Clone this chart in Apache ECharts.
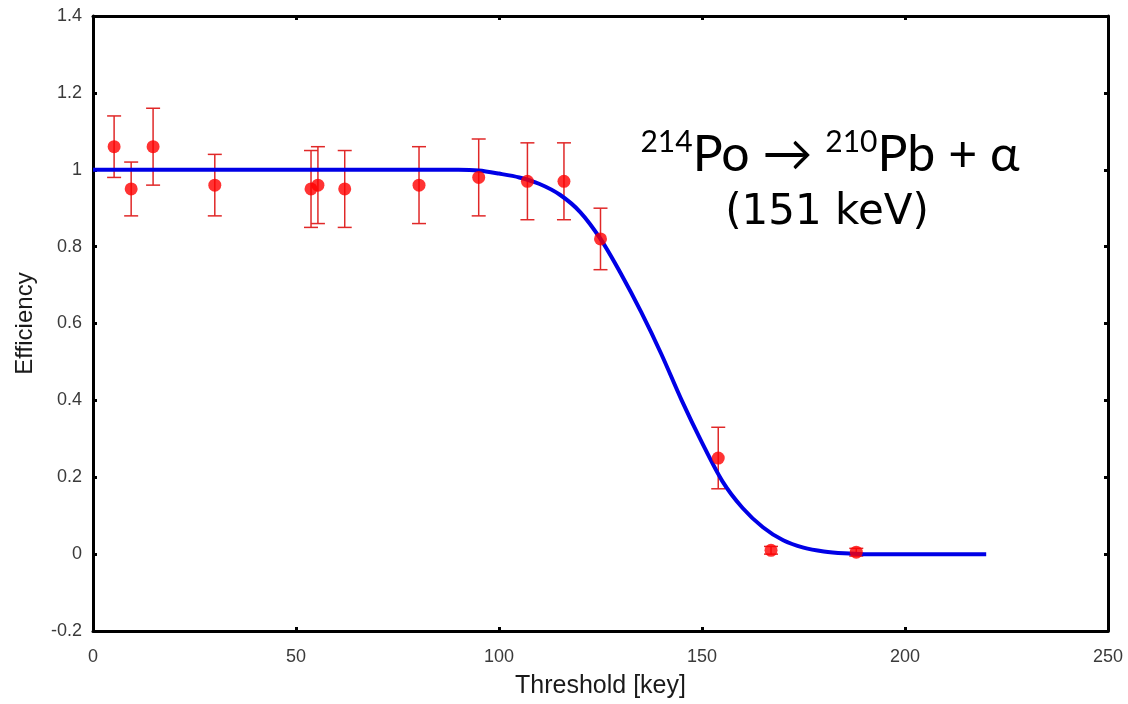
<!DOCTYPE html>
<html>
<head>
<meta charset="utf-8">
<script src="https://cdn.jsdelivr.net/npm/echarts@6/dist/echarts.min.js"></script>
<style>html,body{margin:0;padding:0;background:#fff;}#c{width:1128px;height:704px;}</style>
</head>
<body>
<div id="c"></div>
<script>
// Measured data points (threshold in keV, efficiency) with error bars
var pointX   = [5.2, 9.4, 14.8, 30, 53.7, 55.4, 62, 80.3, 95, 107, 116, 125, 154, 167, 188];
var pointY   = [1.06, 0.95, 1.06, 0.96, 0.95, 0.96, 0.95, 0.96, 0.98, 0.97, 0.97, 0.82, 0.25, 0.01, 0.005];
var errLow   = [0.98, 0.88, 0.96, 0.88, 0.85, 0.86, 0.85, 0.86, 0.88, 0.87, 0.87, 0.74, 0.17, 0.00, -0.005];
var errHigh  = [1.14, 1.02, 1.16, 1.04, 1.05, 1.06, 1.05, 1.06, 1.08, 1.07, 1.07, 0.90, 0.33, 0.02, 0.015];

// Fitted efficiency curve
var curveX = [0, 85, 90, 95, 100, 105, 110, 115, 120, 125, 130, 135, 140, 145, 150, 155, 160, 165, 170, 175, 180, 185, 190, 220];
var curveY = [1, 1, 1, 0.998, 0.99, 0.98, 0.963, 0.935, 0.89, 0.82, 0.73, 0.63, 0.52, 0.40, 0.29, 0.19, 0.12, 0.07, 0.036, 0.017, 0.007, 0.002, 0, 0];

// Axis settings
var xTicks = {min: 0, max: 250, interval: 50};
var yTicks = {min: -0.2, max: 1.4, interval: 0.2};

var chart = echarts.init(document.getElementById('c'), null, {renderer: 'canvas'});

var points = pointX.map(function (x, i) { return [x, pointY[i]]; });
var bars = pointX.map(function (x, i) { return [x, errLow[i], errHigh[i]]; });
var curve = curveX.map(function (x, i) { return [x, curveY[i]]; });

var labelStyle = {color: '#3a3a3a', fontSize: 18, fontFamily: 'Liberation Sans, Arial, sans-serif'};
var axisLine = {show: true, onZero: false, lineStyle: {color: '#000', width: 3}};
var tick = {show: true, inside: true, length: 4, lineStyle: {color: '#000', width: 3}};

var option = {
  backgroundColor: '#fff',
  animation: false,
  grid: {left: 93, right: 20, top: 16, bottom: 67, containLabel: false},
  xAxis: [{
    type: 'value', min: xTicks.min, max: xTicks.max, interval: xTicks.interval,
    position: 'bottom',
    name: 'Threshold [key]', nameLocation: 'middle', nameGap: 43,
    nameTextStyle: {color: '#1a1a1a', fontSize: 25, fontFamily: 'Liberation Sans, Arial, sans-serif'},
    axisLine: axisLine, axisTick: tick,
    axisLabel: Object.assign({margin: 17}, labelStyle),
    splitLine: {show: false}
  }, {
    type: 'value', min: xTicks.min, max: xTicks.max, interval: xTicks.interval,
    position: 'top',
    axisLine: axisLine, axisTick: tick, axisLabel: {show: false}, splitLine: {show: false}
  }],
  yAxis: [{
    type: 'value', min: yTicks.min, max: yTicks.max, interval: yTicks.interval,
    position: 'left',
    name: 'Efficiency', nameLocation: 'middle', nameGap: 56, nameRotate: 90,
    nameTextStyle: {color: '#1a1a1a', fontSize: 24, fontFamily: 'Liberation Sans, Arial, sans-serif'},
    axisLine: axisLine, axisTick: tick,
    axisLabel: Object.assign({margin: 11}, labelStyle),
    splitLine: {show: false}
  }, {
    type: 'value', min: yTicks.min, max: yTicks.max, interval: yTicks.interval,
    position: 'right',
    axisLine: axisLine, axisTick: tick, axisLabel: {show: false}, splitLine: {show: false}
  }],
  series: [{
    type: 'custom',
    name: 'errors',
    z: 1,
    data: bars,
    renderItem: function (params, api) {
      var x = api.value(0);
      var lo = api.coord([x, api.value(1)]);
      var hi = api.coord([x, api.value(2)]);
      var cap = 7;
      var st = {stroke: '#e02828', lineWidth: 1.5};
      return {
        type: 'group',
        children: [
          {type: 'line', shape: {x1: lo[0], y1: lo[1], x2: hi[0], y2: hi[1]}, style: st},
          {type: 'line', shape: {x1: lo[0] - cap, y1: lo[1], x2: lo[0] + cap, y2: lo[1]}, style: st},
          {type: 'line', shape: {x1: hi[0] - cap, y1: hi[1], x2: hi[0] + cap, y2: hi[1]}, style: st}
        ]
      };
    }
  }, {
    type: 'line',
    name: 'fit',
    z: 2,
    data: curve,
    smooth: 0.3,
    showSymbol: false,
    symbol: 'none',
    lineStyle: {color: '#0000e6', width: 4}
  }, {
    type: 'scatter',
    name: 'data',
    z: 3,
    data: points,
    symbol: 'circle',
    symbolSize: 13,
    itemStyle: {color: '#ff0000'}
  }],
  graphic: [{
    type: 'text',
    x: 830, y: 122,
    style: {
      text: '{s|214}{b|Po → }{s|210}{b|Pb + α}',
      textAlign: 'center',
      fill: '#000',
      rich: {
        s: {fontSize: 30, fontFamily: 'Lato, DejaVu Sans, sans-serif', verticalAlign: 'top', lineHeight: 58, padding: [5, 0, 0, 0], fill: '#000'},
        b: {fontSize: 50, fontFamily: 'Lato, DejaVu Sans, sans-serif', verticalAlign: 'bottom', lineHeight: 58, fill: '#000'}
      }
    }
  }, {
    type: 'text',
    x: 827, y: 192,
    style: {
      text: '(151 keV)',
      textAlign: 'center',
      fill: '#000',
      fontSize: 42,
      fontFamily: 'DejaVu Sans, sans-serif'
    }
  }]
};
chart.setOption(option);
</script>
</body>
</html>
